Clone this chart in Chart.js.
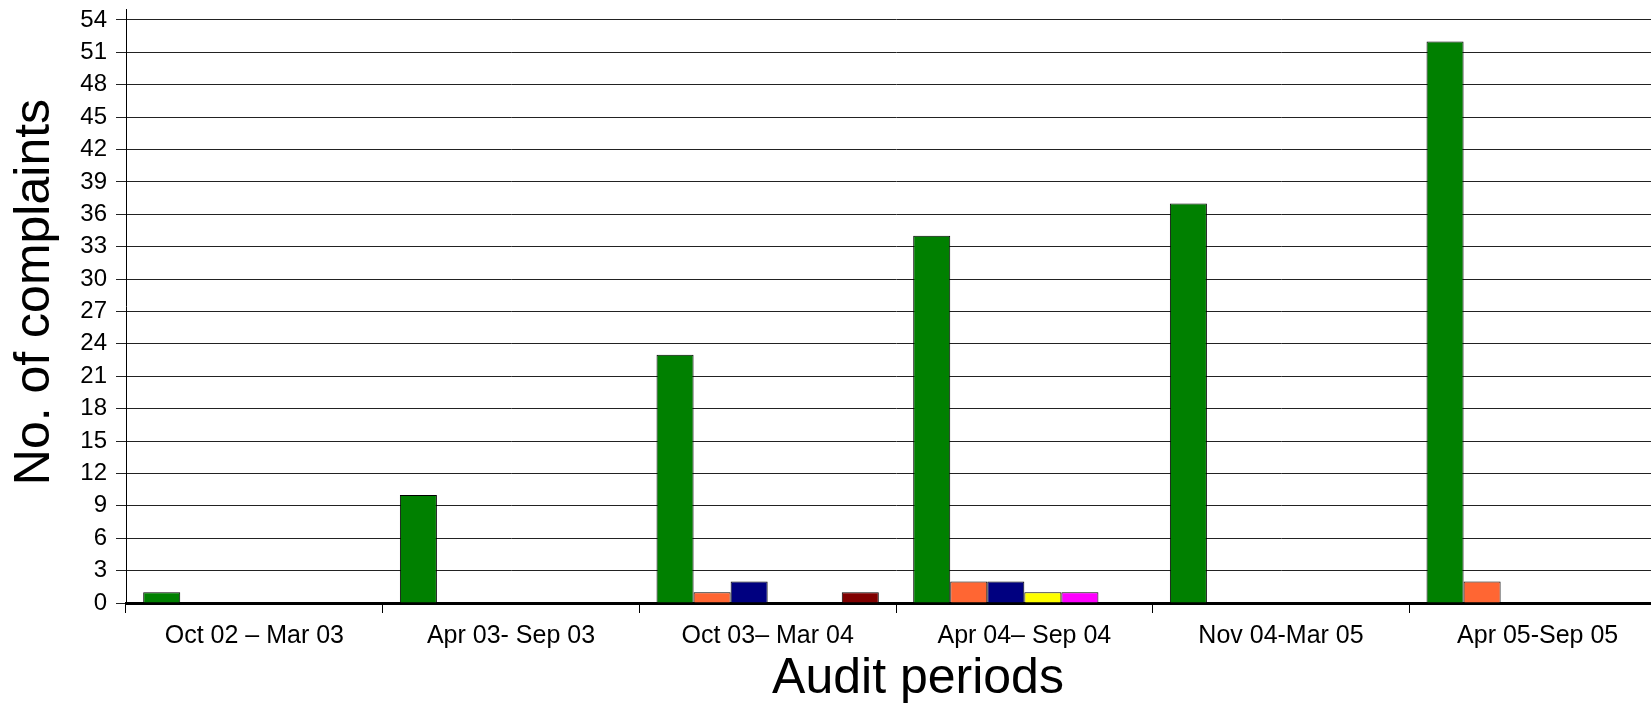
<!DOCTYPE html>
<html>
<head>
<meta charset="utf-8">
<script src="https://cdn.jsdelivr.net/npm/chart.js@4.4.1/dist/chart.umd.min.js"></script>
<style>
  html, body { margin: 0; padding: 0; background: #fff; overflow: hidden; }
  canvas { display: block; }
</style>
</head>
<body>
<canvas id="complaintsChart" width="1666" height="705"></canvas>
<script>
var periods = ['Oct 02 \u2013 Mar 03', 'Apr 03- Sep 03', 'Oct 03\u2013 Mar 04', 'Apr 04\u2013 Sep 04', 'Nov 04-Mar 05', 'Apr 05-Sep 05'];

var seriesA = [1, 10, 23, 34, 37, 52];
var seriesB = [0, 0, 1, 2, 0, 2];
var seriesC = [0, 0, 2, 2, 0, 0];
var seriesD = [0, 0, 0, 1, 0, 0];
var seriesE = [0, 0, 0, 1, 0, 0];
var seriesF = [0, 0, 1, 0, 0, 0];

var yTicks = [0, 3, 6, 9, 12, 15, 18, 21, 24, 27, 30, 33, 36, 39, 42, 45, 48, 51, 54];
var yMax = 55;

var FONT = "'Liberation Sans', Arial, sans-serif";

function series(label, values, colour) {
    return {
        label: label,
        data: values,
        backgroundColor: colour,
        borderColor: '#000',
        borderWidth: 1,
        categoryPercentage: 0.866,
        barPercentage: 1.0
    };
}

// axis titles drawn by hand, the original sits a bit off the scale centres
var axisTitles = {
    id: 'axisTitles',
    afterDraw: function (chart) {
        var c = chart.ctx, x = chart.scales.x, y = chart.scales.y;
        c.save();
        c.font = '50px ' + FONT;
        c.fillStyle = '#000';
        c.textAlign = 'center';
        c.textBaseline = 'middle';
        c.fillText('Audit periods', (x.left + x.right) / 2 + 22, x.bottom - 26);
        c.translate(y.left + 35, (y.top + y.bottom) / 2 - 14);
        c.rotate(-Math.PI / 2);
        c.fillText('No. of complaints', 0, 0);
        c.restore();
    }
};

var ctx = document.getElementById('complaintsChart').getContext('2d');
var chart = new Chart(ctx, {
    type: 'bar',
    data: {
        labels: periods,
        datasets: [
            series('Series 1', seriesA, '#008000'),
            series('Series 2', seriesB, '#FF6633'),
            series('Series 3', seriesC, '#000080'),
            series('Series 4', seriesD, '#FFFF00'),
            series('Series 5', seriesE, '#FF00FF'),
            series('Series 6', seriesF, '#800000')
        ]
    },
    plugins: [axisTitles],
    options: {
        responsive: false,
        animation: false,
        layout: { padding: 0 },
        plugins: {
            legend: { display: false },
            tooltip: { enabled: false }
        },
        scales: {
            x: {
                grid: {
                    display: true,
                    offset: true,
                    drawOnChartArea: false,
                    tickLength: 10,
                    color: '#000'
                },
                border: { display: true, color: '#000', width: 3 },
                ticks: {
                    color: '#000',
                    padding: 8,
                    maxRotation: 0,
                    autoSkip: false,
                    font: { family: FONT, size: 25 }
                },
                afterFit: function (scale) { scale.height = 102; }
            },
            y: {
                min: 0,
                max: yMax,
                grid: {
                    color: '#222',
                    lineWidth: 1,
                    tickLength: 10
                },
                border: { display: true, color: '#000', width: 1 },
                ticks: {
                    color: '#000',
                    padding: 9,
                    font: { family: FONT, size: 24, lineHeight: 0.01 }
                },
                afterBuildTicks: function (scale) {
                    scale.ticks = yTicks.map(function (v) { return { value: v }; });
                },
                afterFit: function (scale) { scale.width = 126; }
            }
        }
    }
});
</script>
</body>
</html>
